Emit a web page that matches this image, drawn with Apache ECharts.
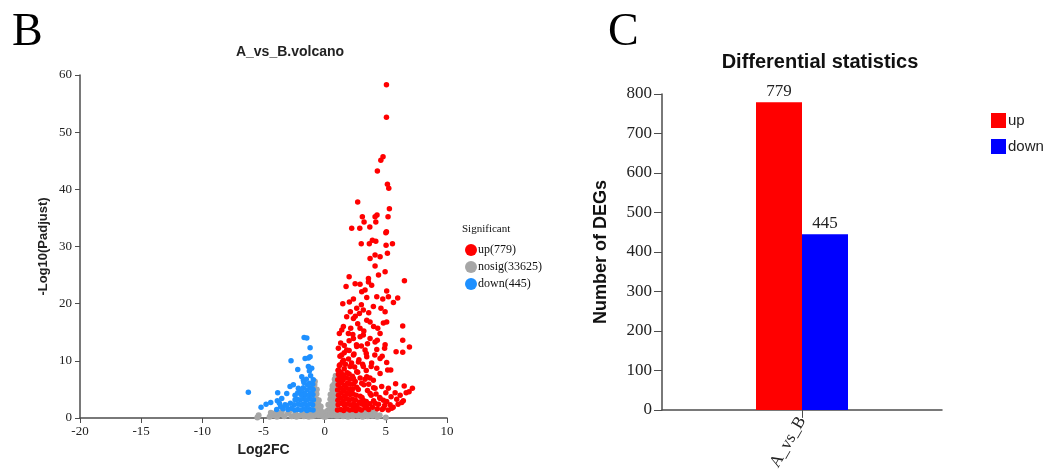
<!DOCTYPE html>
<html><head><meta charset="utf-8">
<script src="https://cdn.jsdelivr.net/npm/echarts@6/dist/echarts.min.js"></script>
<style>html,body{margin:0;padding:0;background:#fff}#c{width:1045px;height:473px}</style>
</head><body><div id="c"></div>
<script>
// ---- Volcano plot (panel B) ----
const volcanoTitle = 'A_vs_B.volcano';
const xTicks = [-20, 10, 5];          // min, max, interval
const yTicks = [0, 60, 10];
const legendNames = ['up(779)', 'nosig(33625)', 'down(445)'];

const upPoints = [
  [5.05,58.3],[5.05,52.6],[4.77,45.7],[4.59,45.1],[4.31,43.2],[5.13,40.9],[5.24,40.2],[2.70,37.8],[5.29,36.6],
  [3.08,35.2],[4.28,35.5],[4.12,35.2],[5.18,35.2],[3.22,34.3],[4.18,34.3],[2.21,33.2],[2.87,33.2],[3.69,33.4],
  [5.05,32.6],[5.0,32.4],[2.99,30.5],[3.65,30.5],[3.90,31.1],[4.18,30.9],[5.02,30.2],[5.54,30.5],
  [3.71,27.9],[4.12,28.5],[4.53,28.2],[5.13,28.8],[4.12,26.6],[4.94,25.6],[4.40,25.0],[6.52,24.0],[2.00,24.7],
  [3.58,24.4],[3.58,23.8],[2.49,23.5],[2.89,23.4],[1.75,23.0],[3.84,23.2],[3.30,22.4],[3.03,22.1],[5.07,22.2],
  [5.21,21.2],[5.97,21.0],[4.75,20.8],[4.26,21.2],[3.44,21.1],[2.35,20.8],[2.02,20.3],[1.48,20.0],[5.62,20.2],
  [3.98,19.5],[2.62,19.2],[3.16,18.9],[4.94,18.6],[2.84,18.3],[1.80,17.7],[2.35,17.4],[3.44,17.1],[3.71,16.8],
  [4.80,16.6],[5.07,16.8],[6.38,16.1],[1.53,16.0],[2.13,15.7],[2.89,15.7],[4.34,15.7],[1.20,14.8],[1.94,14.8],
  [3.16,14.5],[4.53,14.8],[2.35,13.9],[3.71,13.9],[6.38,13.6],[4.12,13.3],[1.31,13.1],[4.94,12.8],[2.62,12.5],
  [6.93,12.4],[1.12,12.2],[1.80,11.9],[3.30,11.9],[4.26,12.0],[5.84,11.6],[6.38,11.5],[1.39,11.0],[2.35,11.0],
  [3.44,10.7],[4.53,10.4],[1.53,10.1],[2.76,9.8],[5.07,9.7],[3.84,9.6],[1.26,9.3],[2.08,9.0],[3.16,9.0],
  [4.26,8.7],[5.15,8.4],[1.12,8.4],[2.62,8.1],[4.53,7.8],[1.53,7.5],[3.44,7.2],[2.35,6.9],[3.98,6.6],[1.26,6.3],
  [3.03,6.1],[4.66,5.5],[5.21,5.2],[7.17,5.2],[4.12,5.2],[5.76,4.4],[6.66,4.4],[6.17,4.0],[5.43,3.7],[3.71,4.3],
  [2.21,4.6],[4.53,3.4],[5.89,3.3],[6.43,3.0],[5.07,2.9],[3.16,3.1],[4.12,2.6],[5.35,2.3],[3.44,2.1],[4.80,1.7],
  [5.48,1.7],[2.35,2.0],[2.89,2.6],
  [1.05,1.4],[1.1,2.3],[1.08,3.1],[1.12,4.0],[1.06,4.9],[1.1,5.8],[1.07,6.7],[1.12,7.6],[1.1,8.3],
  [1.3,1.5],[1.35,2.6],[1.28,3.5],[1.33,4.4],[1.3,5.3],[1.36,6.2],[1.3,7.1],[1.34,8.0],
  [1.55,1.3],[1.6,2.2],[1.52,3.0],[1.58,3.9],[1.55,4.8],[1.62,5.7],[1.5,6.6],[1.57,7.5],[1.6,8.6],
  [1.8,1.6],[1.85,2.5],[1.78,3.4],[1.83,4.3],[1.8,5.2],[1.86,6.1],[1.79,7.0],[1.84,7.9],
  [2.05,1.4],[2.1,2.3],[2.02,3.2],[2.08,4.1],[2.04,5.0],[2.1,5.9],[2.06,6.8],[2.0,7.7],
  [2.3,1.5],[2.35,2.4],[2.28,3.3],[2.33,4.2],[2.3,5.1],[2.36,6.0],[2.27,7.3],
  [2.55,1.3],[2.6,2.2],[2.52,3.1],[2.58,4.0],[2.62,5.4],[2.5,6.4],
  [2.8,1.6],[2.85,2.8],[2.9,3.8],[2.75,5.0],[3.0,1.4],[3.1,2.4],[3.05,3.6],[3.3,1.8],[3.4,2.9],[3.6,1.5],
  [3.7,2.5],[3.9,1.9],[4.0,3.0],[4.3,1.6],[4.4,2.4],[4.7,1.5],[4.9,2.2],[5.2,1.4],[5.6,1.9],[6.0,2.4],[6.3,2.7],
  [1.2,9.2],[1.45,9.8],[1.7,9.4],[1.95,10.3],[2.2,9.6],[2.45,8.9],[2.7,8.0],[2.9,7.0],[3.2,5.8],[3.5,4.8],
  [3.8,4.0],[1.25,10.8],[1.6,11.4],[2.0,11.8],[2.4,11.2],[2.8,10.2],[3.1,9.4],[3.4,8.3],[3.7,7.0],[3.3,6.8],
  [3.6,5.9],[4.0,5.3],[4.2,4.2],[4.5,3.6],[4.8,3.1],[5.0,4.4],[2.6,12.8],[2.0,13.5],[1.6,12.7],[3.0,12.6],
  [3.4,11.3],[3.8,9.0],[4.1,11.0],[2.3,14.6],[2.9,14.2],[3.5,13.0],[1.4,15.4],[2.7,16.5],[3.2,15.2],[4.0,16.0],
  [2.1,18.6],[2.5,17.8],[3.0,19.8],[3.6,18.4],[4.6,19.2],[4.3,13.6],[4.7,10.8],[4.9,12.2],[5.4,8.4],[5.8,6.0],
  [6.5,5.6],[6.9,4.6]
];

const nosigPoints = [
  [-0.9,0.4],[-0.9,1.3],[-0.88,2.2],[-0.9,3.1],[-0.86,4.0],[-0.85,4.9],[-0.83,5.8],[-0.8,6.4],[-0.7,0.6],
  [-0.72,1.5],[-0.7,2.4],[-0.68,3.3],[-0.66,4.2],[-0.64,5.0],[-0.5,0.5],[-0.52,1.4],[-0.5,2.3],[-0.48,3.1],
  [-0.35,0.5],[-0.33,1.3],[-0.32,2.0],[-0.2,0.4],[-0.18,1.0],[-0.05,0.2],
  [0.05,0.2],[0.15,0.5],[0.18,1.2],[0.3,0.5],[0.32,1.4],[0.3,2.3],[0.45,0.6],[0.45,1.5],[0.47,2.4],[0.46,3.3],
  [0.48,4.1],[0.6,0.5],[0.62,1.4],[0.6,2.3],[0.63,3.2],[0.6,4.1],[0.62,5.0],[0.64,5.6],[0.78,0.6],[0.8,1.5],
  [0.78,2.4],[0.8,3.3],[0.77,4.2],[0.8,5.1],[0.79,6.0],[0.82,6.8],[0.95,0.4],[0.95,1.3],[0.96,2.2],[0.94,3.1],
  [0.97,4.0],[0.95,4.9],[0.96,5.8],[0.93,6.6],[0.9,7.4],
  [-4.5,0.2],[-4.2,0.5],[-3.9,0.2],[-3.6,0.7],[-3.3,0.3],[-3.0,0.8],[-2.7,0.3],[-2.4,0.9],[-2.1,0.4],[-1.8,1.0],
  [-1.5,0.5],[-1.2,1.0],[-1.05,0.3],[-4.0,0.9],[-3.5,1.1],[-2.9,1.2],[-2.3,0.2],[-1.7,0.3],[-1.3,0.2],[-5.4,0.5],
  [-5.5,0.1],[1.1,0.4],[1.3,1.0],[1.5,0.3],[1.7,0.9],[1.9,0.2],[2.1,0.8],[2.3,0.3],[2.5,1.0],[2.7,0.4],[2.9,0.9],
  [3.1,0.2],[3.3,0.8],[3.5,0.3],[3.7,1.0],[3.9,0.4],[4.1,0.7],[4.3,0.2],[4.5,0.5],[4.1,1.2],[3.4,1.2],[2.0,1.2],
  [5.0,0.1],[-4.4,0.9]
];

const downPoints = [
  [-6.24,4.5],[-5.20,1.9],[-4.79,2.4],[-4.41,2.7],[-3.84,4.4],[-3.87,3.0],[-3.92,1.5],[-3.51,3.4],[-3.24,2.3],
  [-2.75,10.0],[-2.83,5.5],[-2.56,5.8],[-2.20,8.5],[-1.68,14.1],[-1.46,14.0],[-1.19,12.3],[-1.60,10.4],
  [-1.33,10.5],[-1.19,10.7],[-1.06,8.7],[-1.33,9.0],[-1.87,7.2],[-1.74,6.6],[-2.15,5.2],[-2.42,4.0],[-3.10,4.3],
  [-0.95,1.4],[-0.98,2.3],[-0.92,3.2],[-0.96,4.1],[-0.94,5.0],[-0.97,5.9],[-0.93,6.7],
  [-1.2,1.5],[-1.18,2.5],[-1.22,3.4],[-1.16,4.3],[-1.2,5.2],[-1.24,6.1],[-1.15,7.4],[-1.25,8.2],
  [-1.45,1.3],[-1.42,2.2],[-1.48,3.1],[-1.44,4.0],[-1.46,4.9],[-1.4,5.8],[-1.5,6.8],
  [-1.7,1.6],[-1.68,2.5],[-1.72,3.4],[-1.66,4.3],[-1.74,5.3],[-1.7,6.2],
  [-1.95,1.4],[-1.92,2.3],[-1.98,3.2],[-1.94,4.1],[-1.9,5.0],
  [-2.2,1.5],[-2.18,2.4],[-2.24,3.3],[-2.2,4.4],
  [-2.45,1.4],[-2.5,2.3],[-2.42,3.2],[-2.7,1.7],[-2.8,2.6],[-3.0,1.5],[-3.1,2.2],[-3.4,1.6],[-3.6,2.0],[-3.7,2.6]
];

// ---- Bar chart (panel C) ----
const barTitle = 'Differential statistics';
const barCategories = ['A_vs_B'];
const barUp = [779];
const barDown = [445];
const barYTicks = [0, 800, 100];

const serif = '"Liberation Serif", "Times New Roman", serif';
const sans = '"Liberation Sans", Arial, sans-serif';
const axisCol = '#4d4d4d';

const chart = echarts.init(document.getElementById('c'));
chart.setOption({
  animation: false,
  title: [
    {text: volcanoTitle, left: 285, top: 40, textAlign: 'center',
     textStyle: {fontFamily: sans, fontSize: 14, fontWeight: 'bold', color: '#222'}},
    {text: barTitle, left: 815, top: 47, textAlign: 'center',
     textStyle: {fontFamily: sans, fontSize: 20, fontWeight: 'bold', color: '#111'}}
  ],
  graphic: [
    {type: 'text', left: 12, top: 10, style: {text: 'B', font: '46px ' + serif, fill: '#000'}},
    {type: 'text', left: 608, top: 10, style: {text: 'C', font: '46px ' + serif, fill: '#000'}},
    {type: 'text', left: 462, top: 224, style: {text: 'Significant', font: '11px ' + serif, fill: '#111'}}
  ],
  legend: [
    {data: legendNames, orient: 'vertical', left: 460, top: 239, itemGap: 5,
     icon: 'circle', itemWidth: 12, itemHeight: 12,
     textStyle: {fontFamily: serif, fontSize: 12, color: '#111', padding: [0,0,0,-4]}},
    {data: ['up', 'down'], orient: 'vertical', left: 986, top: 108, itemGap: 11,
     icon: 'rect', itemWidth: 15, itemHeight: 15,
     textStyle: {fontFamily: sans, fontSize: 15, color: '#222', padding: [0,0,0,-3]}}
  ],
  grid: [
    {left: 80, right: 598, top: 75, bottom: 55},
    {left: 662, right: 103, top: 94, bottom: 59}
  ],
  xAxis: [
    {gridIndex: 0, type: 'value', min: xTicks[0], max: xTicks[1], interval: xTicks[2],
     name: 'Log2FC', nameLocation: 'middle', nameGap: 23,
     nameTextStyle: {fontFamily: sans, fontSize: 14, fontWeight: 'bold', color: '#222'},
     axisLine: {show: true, onZero: false, lineStyle: {color: axisCol, width: 1.5}},
     axisTick: {show: true, length: 5, lineStyle: {color: axisCol}},
     axisLabel: {fontFamily: serif, fontSize: 13, color: '#222', margin: 7},
     splitLine: {show: false}},
    {gridIndex: 1, type: 'category', data: barCategories,
     axisLine: {show: true, onZero: false, lineStyle: {color: axisCol, width: 1.5}},
     axisTick: {show: true, alignWithLabel: true, length: 8, lineStyle: {color: axisCol}},
     axisLabel: {fontFamily: serif, fontSize: 17, color: '#222', rotate: 60, margin: 8}}
  ],
  yAxis: [
    {gridIndex: 0, type: 'value', min: yTicks[0], max: yTicks[1], interval: yTicks[2],
     name: '-Log10(Padjust)', nameLocation: 'middle', nameGap: 30,
     nameTextStyle: {fontFamily: sans, fontSize: 13, fontWeight: 'bold', color: '#222'},
     axisLine: {show: true, onZero: false, lineStyle: {color: axisCol, width: 1.5}},
     axisTick: {show: true, length: 5, lineStyle: {color: axisCol}},
     axisLabel: {fontFamily: serif, fontSize: 13, color: '#222', margin: 8},
     splitLine: {show: false}},
    {gridIndex: 1, type: 'value', min: barYTicks[0], max: barYTicks[1], interval: barYTicks[2],
     name: 'Number of DEGs', nameLocation: 'middle', nameGap: 52,
     nameTextStyle: {fontFamily: sans, fontSize: 18, fontWeight: 'bold', color: '#111'},
     axisLine: {show: true, onZero: false, lineStyle: {color: axisCol, width: 1.5}},
     axisTick: {show: true, length: 8, lineStyle: {color: axisCol}},
     axisLabel: {fontFamily: serif, fontSize: 17, color: '#222', margin: 10},
     splitLine: {show: false}}
  ],
  series: [
    {name: legendNames[1], type: 'scatter', xAxisIndex: 0, yAxisIndex: 0, data: nosigPoints,
     symbolSize: 6, itemStyle: {color: '#a6a6a6', opacity: 1}, z: 1},
    {name: legendNames[0], type: 'scatter', xAxisIndex: 0, yAxisIndex: 0, data: upPoints,
     symbolSize: 5.5, itemStyle: {color: '#ff0000', opacity: 1}, z: 2},
    {name: legendNames[2], type: 'scatter', xAxisIndex: 0, yAxisIndex: 0, data: downPoints,
     symbolSize: 5.5, itemStyle: {color: '#1e90ff', opacity: 1}, z: 2},
    {name: 'up', type: 'bar', xAxisIndex: 1, yAxisIndex: 1, data: barUp, barWidth: 46, barGap: '0%',
     itemStyle: {color: '#ff0000'},
     label: {show: true, position: 'top', fontFamily: serif, fontSize: 17, color: '#222', distance: 2}},
    {name: 'down', type: 'bar', xAxisIndex: 1, yAxisIndex: 1, data: barDown, barWidth: 46,
     itemStyle: {color: '#0000ff'},
     label: {show: true, position: 'top', fontFamily: serif, fontSize: 17, color: '#222', distance: 2}}
  ]
});
</script></body></html>
